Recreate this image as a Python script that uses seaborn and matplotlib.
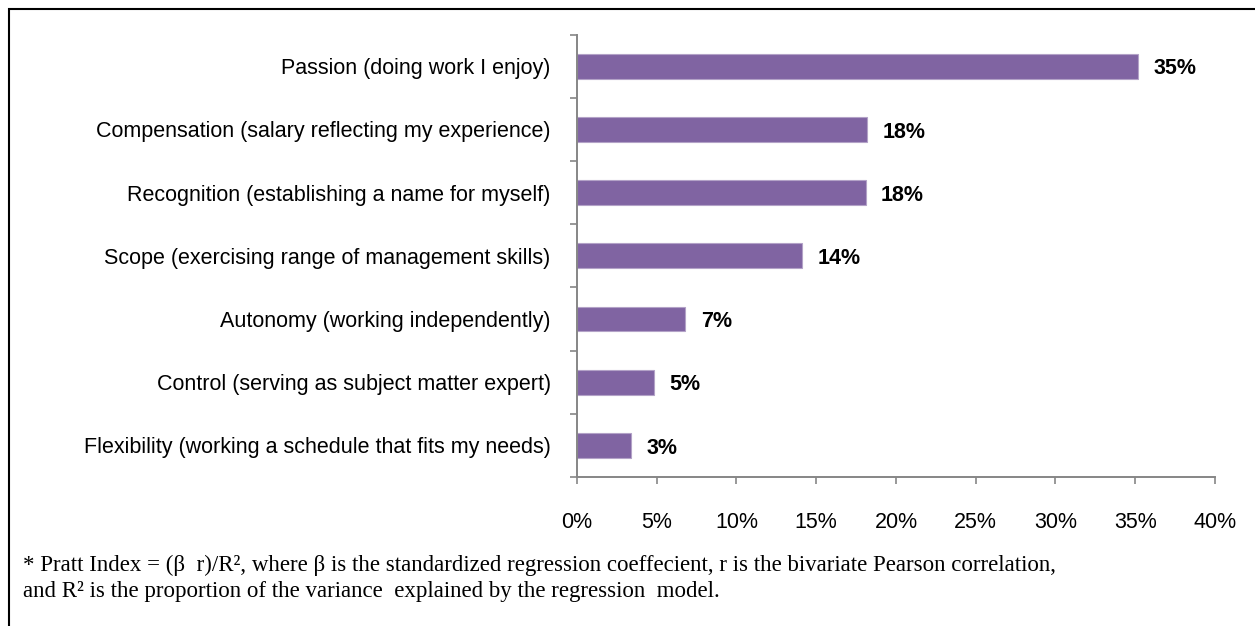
"""Pratt index of career drivers -- horizontal bar chart."""

import matplotlib
matplotlib.use("Agg")
import matplotlib.pyplot as plt
from matplotlib.patches import Rectangle
from matplotlib.ticker import FuncFormatter, MultipleLocator
import pandas as pd
import seaborn as sns

# ------------------------------------------------------------------
# DATA
# ------------------------------------------------------------------
drivers = [
    "Passion (doing work I enjoy)",
    "Compensation (salary reflecting my experience)",
    "Recognition (establishing a name for myself)",
    "Scope (exercising range of management skills)",
    "Autonomy (working independently)",
    "Control (serving as subject matter expert)",
    "Flexibility (working a schedule that fits my needs)",
]
pratt = [35.2, 18.2, 18.1, 14.1, 6.8, 4.8, 3.4]
value_labels = ["35%", "18%", "18%", "14%", "7%", "5%", "3%"]

footnote_lines = [
    "* Pratt Index = (\u03b2  r)/R\u00b2, where \u03b2 is the standardized regression "
    "coeffecient, r is the bivariate Pearson correlation,",
    "and R\u00b2 is the proportion of the variance  explained by the regression  model.",
]

# ------------------------------------------------------------------
# STYLE
# ------------------------------------------------------------------
sns.set_style("white")
plt.rcParams["font.family"] = ["Liberation Sans", "DejaVu Sans"]
plt.rcParams["text.color"] = "black"
plt.rcParams["xtick.color"] = "black"
plt.rcParams["ytick.color"] = "black"

BAR = "#8064A2"
AXIS = "#868686"
FS = 15.5

df = pd.DataFrame({"driver": drivers, "pratt": pratt})

fig = plt.figure(figsize=(12.55, 6.26), dpi=100)
ax = fig.add_axes([0.4598, 0.238, 0.968 - 0.4598, 0.9447 - 0.238])

sns.barplot(data=df, x="pratt", y="driver", orient="h", color=BAR,
            saturation=1, width=0.39, edgecolor="#B3A2C7", linewidth=0.8,
            ax=ax)

ax.set_xlim(0, 40)
ax.set_ylim(len(drivers) - 0.5, -0.5)
ax.xaxis.set_major_locator(MultipleLocator(5))
ax.xaxis.set_major_formatter(FuncFormatter(lambda v, _: f"{v:.0f}%"))
ax.set_xlabel("")
ax.set_ylabel("")

# category-boundary ticks on the y axis, labels centred on bars
ax.set_yticks([i - 0.5 for i in range(len(drivers) + 1)], minor=False)
ax.set_yticklabels([])
ax.set_yticks(range(len(drivers)), minor=True)
ax.set_yticklabels(drivers, minor=True)
ax.tick_params(axis="y", which="major", left=True, length=5, width=1.2,
               color=AXIS, direction="out")
ax.tick_params(axis="y", which="minor", left=True, length=0, pad=19,
               labelsize=FS, labelcolor="black")
ax.tick_params(axis="x", bottom=True, length=5, width=1.2, color=AXIS,
               direction="out", pad=20, labelsize=FS, labelcolor="black")

for side in ("top", "right"):
    ax.spines[side].set_visible(False)
for side in ("left", "bottom"):
    ax.spines[side].set_color(AXIS)
    ax.spines[side].set_linewidth(1.4)

for i, (v, lab) in enumerate(zip(pratt, value_labels)):
    ax.annotate(lab, (v, i), xytext=(11, -2), textcoords="offset points",
                ha="left", va="center", fontsize=FS, fontweight="bold",
                color="black")

# footnote in a serif face
serif = ["Liberation Serif", "DejaVu Serif"]
fig.text(0.018, 1 - 565 / 626, footnote_lines[0], ha="left", va="center",
         fontsize=16.5, family=serif)
fig.text(0.018, 1 - 591 / 626, footnote_lines[1], ha="left", va="center",
         fontsize=16.5, family=serif)

# outer frame
fig.patches.append(Rectangle((9 / 1255, -0.05), 1.2, 1 - 9 / 626 + 0.05,
                             transform=fig.transFigure, fill=False,
                             edgecolor="black", linewidth=1.5))

fig.savefig("out.png", dpi=100)
